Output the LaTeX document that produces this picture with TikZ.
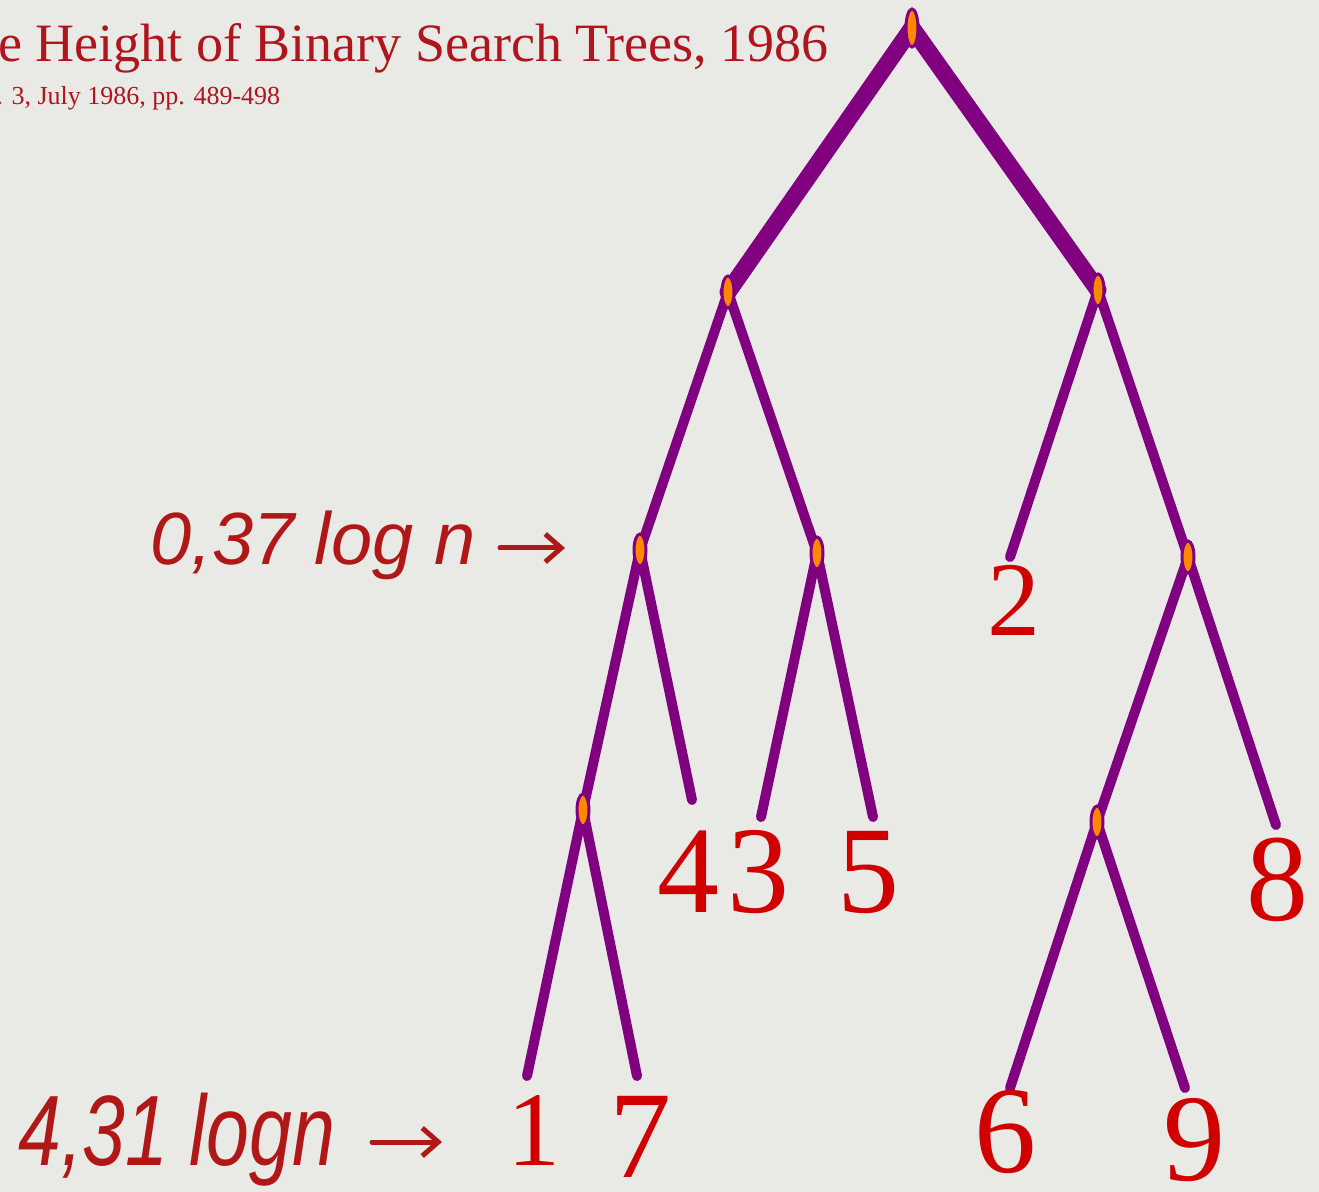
\documentclass[tikz,border=0pt]{standalone}
\usepackage{fontspec}
\setmainfont{Liberation Serif}
\newfontfamily\handfont{Liberation Sans}
\usetikzlibrary{shapes.geometric,arrows.meta}
\pgfdeclarelayer{bglayer}
\pgfdeclarelayer{edgelayer}
\pgfsetlayers{bglayer,edgelayer,main}
\definecolor{bgcol}{HTML}{E9EAE6}
\definecolor{treepurple}{HTML}{800080}
\definecolor{nodeorange}{HTML}{FF8800}
\definecolor{titlered}{HTML}{B0141C}
\definecolor{leafred}{HTML}{D00000}
\definecolor{handred}{HTML}{B01818}
\begin{document}
\begin{tikzpicture}[x=0.5pt,y=-0.5pt,
  inode/.style={ellipse, fill=nodeorange, draw=treepurple, line width=1.5pt,
    minimum width=6pt, minimum height=16pt, inner sep=0pt},
  branch/.style={draw=treepurple, line width=5pt, line cap=round},
  trunk/.style={draw=treepurple, line width=8.5pt, line cap=round},
  leaf/.style={text=leafred, inner sep=0pt, font=\fontsize{62}{62}\selectfont},
  smallleaf/.style={leaf, font=\fontsize{53}{53}\selectfont},
  hand/.style={text=handred, inner sep=0pt, anchor=base west},
  harrow/.style={draw=handred, line width=2.5pt, line cap=round,
    -{Straight Barb[length=8pt,width=14pt]}}
]
\path[use as bounding box] (0,0) rectangle (1319,1192);
\clip (0,0) rectangle (1319,1192);
\begin{pgfonlayer}{bglayer}
  \fill[bgcol] (0,0) rectangle (1319,1192);
\end{pgfonlayer}

% title
\node[anchor=base west, inner sep=0pt, text=titlered,
  font=\fontsize{27}{30}\selectfont] (title) at (-2,62)
  {e Height of Binary Search Trees, 1986};
\node[anchor=base west, inner sep=0pt, text=titlered,
  font=\fontsize{13}{15}\selectfont] (sub) at (-4,105)
  {. 3, July 1986, pp. 489-498};

% internal nodes
\node[inode, minimum height=19pt] (R) at (912,28) {};
\node[inode] (A) at (728,292) {};
\node[inode] (B) at (1098,290) {};
\node[inode] (C) at (640,550) {};
\node[inode] (D) at (817,553) {};
\node[inode] (E) at (1188,557) {};
\node[inode] (F) at (583,810) {};
\node[inode] (G) at (1097,822) {};

% leaf ends
\coordinate (e2) at (1010,557);
\coordinate (e4) at (692,800);
\coordinate (e3) at (761,817);
\coordinate (e5) at (873,817);
\coordinate (e8) at (1276,825);
\coordinate (e1) at (527,1076);
\coordinate (e7) at (637,1076);
\coordinate (e6) at (1010,1088);
\coordinate (e9) at (1185,1088);

% leaf labels
\node[smallleaf] (n2) at (1014,600) {2};
\node[leaf] (n4) at (688,872) {4};
\node[leaf] (n3) at (758,872) {3};
\node[leaf] (n5) at (868,873) {5};
\node[leaf] (n8) at (1277,880) {8};
\node[smallleaf] (n1) at (534,1131) {1};
\node[leaf] (n7) at (640,1137) {7};
\node[leaf] (n6) at (1005,1132) {6};
\node[leaf] (n9) at (1194,1140) {9};

\begin{pgfonlayer}{edgelayer}
  \draw[trunk] (R.center) -- (A.center);
  \draw[trunk] (R.center) -- (B.center);
  \draw[branch] (A.center) -- (C.center);
  \draw[branch] (A.center) -- (D.center);
  \draw[branch] (B.center) -- (e2);
  \draw[branch] (B.center) -- (E.center);
  \draw[branch] (C.center) -- (F.center);
  \draw[branch] (C.center) -- (e4);
  \draw[branch] (D.center) -- (e3);
  \draw[branch] (D.center) -- (e5);
  \draw[branch] (E.center) -- (G.center);
  \draw[branch] (E.center) -- (e8);
  \draw[branch] (F.center) -- (e1);
  \draw[branch] (F.center) -- (e7);
  \draw[branch] (G.center) -- (e6);
  \draw[branch] (G.center) -- (e9);
\end{pgfonlayer}

% handwritten annotations
\node[hand, font=\handfont\itshape\fontsize{37}{40}\selectfont] (h1) at (150,565) {0,37 log n};
\coordinate (h1s) at (500,548);
\coordinate (h1e) at (565,548);
\draw[harrow] (h1s) -- (h1e);

\node[hand, font=\handfont\itshape\fontsize{50}{52}\selectfont] (h2) at (18,1165)
  {\scalebox{0.77}[1]{4,31 logn}};
\coordinate (h2s) at (372,1142);
\coordinate (h2e) at (442,1142);
\draw[harrow] (h2s) -- (h2e);
\end{tikzpicture}
\end{document}
